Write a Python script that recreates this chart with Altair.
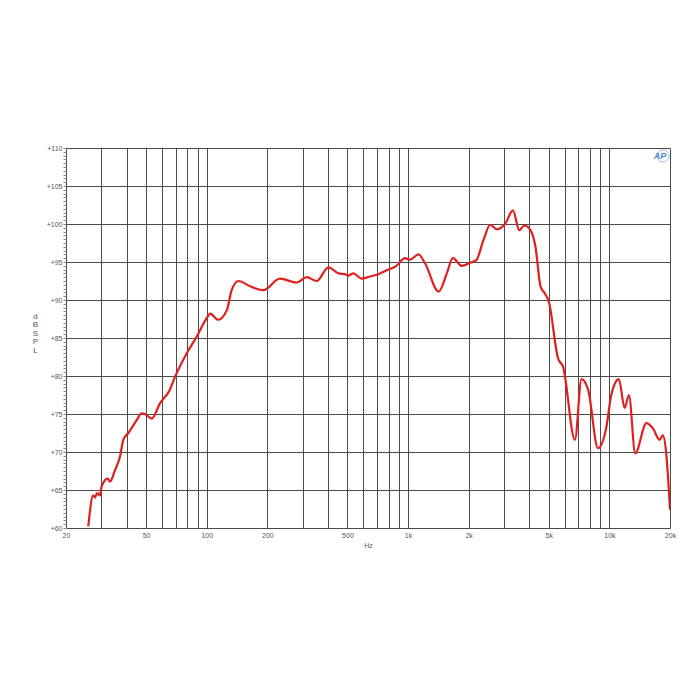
import altair as alt
import pandas as pd

# Frequency response (Hz, dB SPL)
freq_hz = [25.8, 27.3, 27.9, 28.5, 29.5, 30.0, 32.2, 33.1, 35.0, 37.1, 38.5, 40.8,
           44.9, 47.5, 49.4, 53.3, 58.6, 65.6, 69.6, 79.6, 89.2, 100, 104, 114,
           126, 133, 144, 164, 191, 231, 280, 314, 352, 402, 452, 486, 504, 535,
           588, 646, 712, 784, 876, 965, 1024, 1126, 1216, 1418, 1558, 1668, 1848,
           2034, 2178, 2370, 2560, 2760, 3032, 3318, 3568, 3778, 4052, 4294, 4550,
           4800, 5000, 5560, 5890, 6740, 7274, 7840, 8780, 9660, 10220, 11140,
           11900, 12500, 13440, 15260, 16460, 17760, 18440, 19160, 20000]
spl_db = [60.2, 64.3, 64.0, 64.6, 64.3, 65.4, 66.5, 66.1, 67.6, 69.4, 71.6, 72.5,
          74.2, 75.1, 75.0, 74.4, 76.4, 78.2, 79.9, 83.0, 85.2, 87.6, 88.2, 87.4,
          88.7, 91.3, 92.5, 91.8, 91.3, 92.8, 92.3, 93.0, 92.5, 94.3, 93.5, 93.4,
          93.2, 93.5, 92.8, 93.1, 93.4, 93.9, 94.5, 95.5, 95.3, 96.0, 94.8, 91.1,
          93.5, 95.5, 94.5, 94.9, 95.2, 97.9, 99.9, 99.3, 100.0, 101.8, 99.2, 99.8,
          99.2, 97.0, 91.8, 90.8, 89.8, 82.3, 81.2, 71.6, 79.6, 78.2, 70.5, 73.3,
          77.5, 79.6, 75.8, 77.5, 69.8, 73.8, 73.1, 71.6, 72.2, 69.8, 62.4]

x_grid = [20, 30, 40, 50, 60, 70, 80, 90, 100, 200, 300, 400, 500, 600, 700, 800,
          900, 1000, 2000, 3000, 4000, 5000, 6000, 7000, 8000, 9000, 10000, 20000]
x_labels = {20: "20", 50: "50", 100: "100", 200: "200", 500: "500", 1000: "1k",
            2000: "2k", 5000: "5k", 10000: "10k", 20000: "20k"}
y_ticks = [60 + 0.5 * i for i in range(101)]

df = pd.DataFrame({"f": freq_hz, "db": spl_db})

label_expr = " : ".join(
    [f"datum.value == {k} ? '{v}'" for k, v in x_labels.items()]) + " : ''"

FONT = "Liberation Sans"

x_scale = alt.Scale(type="log", domain=[20, 20000], nice=False)
y_scale = alt.Scale(domain=[60, 110], nice=False, zero=False)

line = alt.Chart(df).mark_line(
    color="#e01f1f", strokeWidth=2.2, interpolate="monotone", clip=True
).encode(
    x=alt.X("f:Q", scale=x_scale,
            axis=alt.Axis(values=x_grid, labelExpr=label_expr, title="Hz",
                          grid=True, gridColor="#4a4a4a", gridWidth=1,
                          ticks=False, domain=False, labelFontSize=7,
                          labelColor="#555555", labelPadding=3,
                          labelFont=FONT, titleFont=FONT, titleFontSize=7,
                          titleFontWeight="normal", titleColor="#555555",
                          titlePadding=3, labelFlush=False)),
    y=alt.Y("db:Q", scale=y_scale,
            axis=alt.Axis(values=y_ticks,
                          labelExpr="datum.value % 5 == 0 ? '+' + datum.value : ''",
                          title=["d", "B", "S", "P", "L"],
                          titleAngle=0, titleAlign="center", titleBaseline="middle",
                          titleX=-31, titleY=168, titleLineHeight=8.5,
                          titleFont=FONT, titleFontSize=8, titleFontWeight="normal",
                          titleColor="#555555",
                          grid=True,
                          gridOpacity={"condition": {"test": "datum.value % 5 == 0", "value": 1}, "value": 0},
                          gridColor="#4a4a4a", gridWidth=1,
                          tickSize=3, tickColor="#888888", domain=False,
                          labelFontSize=7, labelColor="#555555", labelPadding=1,
                          labelFont=FONT, labelFlush=False)),
)

logo = alt.Chart(pd.DataFrame({"t": ["AP"]})).mark_text(
    font=FONT, fontSize=9, fontStyle="italic", fontWeight="bold",
    color="#4a86c8", align="center", baseline="middle"
).encode(x=alt.value(594), y=alt.value(8), text="t:N")

ring = alt.Chart(pd.DataFrame({"t": ["o"]})).mark_point(
    shape="circle", size=150, filled=False, color="#4a86c8", strokeWidth=0.8
).encode(x=alt.value(597), y=alt.value(8))

chart = alt.layer(line, ring, logo).properties(
    width=604, height=380,
    padding={"left": 58, "top": 140, "right": 10, "bottom": 40},
    autosize=alt.AutoSizeParams(type="none"),
).configure_view(stroke="#999999", strokeWidth=1).configure(background="white")

chart.save("out.html", embed_options={"renderer": "svg", "actions": False})
